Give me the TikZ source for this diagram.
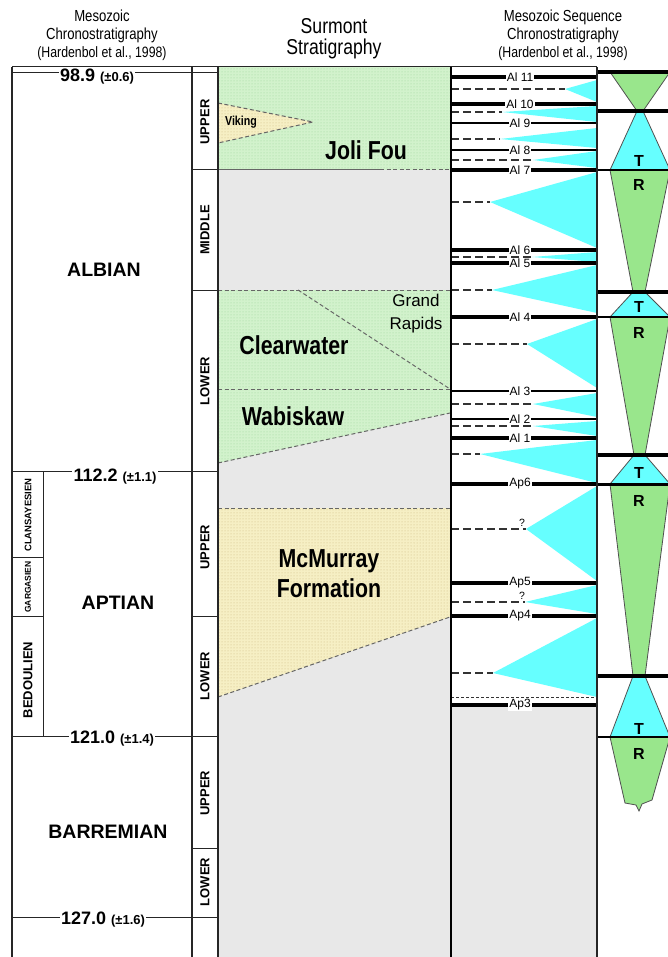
\documentclass[tikz,border=0pt]{standalone}
\usepackage{fontspec}
\setmainfont{Liberation Sans}
\newfontfamily\narrowfont[FakeStretch=0.82]{Liberation Sans}
\usetikzlibrary{patterns}
\definecolor{trgreen}{HTML}{99E68C}
\definecolor{trcyan}{HTML}{66FFFF}
\definecolor{fmgreen}{HTML}{D2F2CC}
\definecolor{dotgreen}{HTML}{9ED49A}
\definecolor{fmyellow}{HTML}{F6EFC4}
\definecolor{dotyellow}{HTML}{CDBB80}
\definecolor{bggray}{HTML}{E8E8E8}
\definecolor{edgegray}{HTML}{505050}
\tikzset{
  hdr/.style={font=\narrowfont\fontsize{16}{18}\selectfont, align=center, inner sep=0pt},
  bighdr/.style={font=\narrowfont\fontsize{21.5}{21}\selectfont, align=center, inner sep=0pt},
  agelbl/.style={font=\bfseries\fontsize{18}{18}\selectfont, fill=white, inner sep=1.2pt},
  stagelbl/.style={font=\bfseries\fontsize{19.5}{20}\selectfont, inner sep=0pt},
  sublbl/.style={font=\bfseries\fontsize{13}{13}\selectfont, rotate=90, inner sep=0pt},
  fmlbl/.style={font=\narrowfont\bfseries\fontsize{26}{30}\selectfont, align=center, inner sep=0pt},
  vikinglbl/.style={font=\narrowfont\bfseries\fontsize{13}{13}\selectfont, inner sep=0pt},
  grlbl/.style={font=\fontsize{17}{23}\selectfont, align=center, inner sep=0pt},
  seqlbl/.style={font=\fontsize{12}{12}\selectfont, fill=white, inner sep=1pt},
  qlbl/.style={font=\fontsize{10.5}{10.5}\selectfont, inner sep=0pt},
  trlbl/.style={font=\bfseries\fontsize{16}{16}\selectfont, inner sep=0pt},
  colline/.style={line width=1.3pt, black!85},
  thinline/.style={line width=1pt, black!85},
  mfs/.style={dash pattern=on 8pt off 4pt, line width=1.6pt, black!80},
  fmedge/.style={dash pattern=on 4pt off 2.5pt, line width=1pt, black!60},
  trshape/.style={draw=edgegray, line width=0.8pt},
  greenfm/.style={fill=fmgreen, postaction={pattern=dots, pattern color=dotgreen}},
  yellowfm/.style={fill=fmyellow, postaction={pattern=dots, pattern color=dotyellow}},
}
\begin{document}
\begin{tikzpicture}[x=1pt,y=-1pt]
\useasboundingbox (0,0) rectangle (668,957);
\fill[white] (0,0) rectangle (668,957);

% ---------- headers
\node[hdr] (hleft) at (102,35) {Mesozoic\\Chronostratigraphy\\{\fontsize{15}{18}\selectfont(Hardenbol et al., 1998)}};
\node[bighdr] (hmid) at (334,39) {Surmont\\Stratigraphy};
\node[hdr] (hright) at (563,35) {Mesozoic Sequence\\Chronostratigraphy\\{\fontsize{15}{18}\selectfont(Hardenbol et al., 1998)}};

% ---------- backgrounds
\fill[bggray] (218,67) rectangle (451,957);
\fill[bggray] (451,706) rectangle (597,957);

% ---------- Surmont formations
\path[greenfm] (218,67) rectangle (450,170);
\path[yellowfm] (218,103) -- (313,122) -- (218,143) -- cycle;
\draw[fmedge] (218,103) -- (313,122) -- (218,143);
\draw[line width=1pt, black!60] (218,170) -- (380,170);
\draw[fmedge] (380,170) -- (450,170);

\path[greenfm] (218,290) -- (450,290) -- (450,413) -- (218,463) -- cycle;
\draw[fmedge] (218,290) -- (450,290);
\draw[fmedge] (218,389) -- (450,389);
\draw[fmedge] (298,290) -- (450,389);
\draw[fmedge] (218,463) -- (450,413);

\path[yellowfm] (218,508) -- (450,508) -- (450,617) -- (218,697) -- cycle;
\draw[fmedge] (218,508) -- (450,508);
\draw[fmedge] (218,697) -- (450,617);

\node[vikinglbl] (viking) at (241,122) {Viking};
\node[fmlbl] (jolifou) at (366,150) {Joli Fou};
\node[fmlbl] (clearwater) at (294,345) {Clearwater};
\node[fmlbl] (wabiskaw) at (293,416) {Wabiskaw};
\node[grlbl] (grandrapids) at (416,314) {Grand\\Rapids};
\node[fmlbl] (mcmurray) at (329,574) {McMurray\\Formation};

% ---------- sequence column: triangles and MFS dashes
\foreach \tx/\ty/\ba/\bb in {565/89/80/102, 502/112/106/122, 500/139/128/148, 533/160/151/168,
  490/202/172/248, 532/257/252/262, 492/290/265/313, 527/344/319/388, 533/404/393/417,
  533/426/421/436, 480/454/440/483, 526/529/486/581, 525/602/585/614, 493/673/618/697}{
  \fill[trcyan] (\tx,\ty) -- (597,\ba) -- (597,\bb) -- cycle;
  \draw[mfs] (451,\ty) -- (\tx,\ty);
}
\draw[dash pattern=on 3pt off 2pt, line width=1pt, black!80] (451,697) -- (597,697);
\node[qlbl] (q1) at (522,523) {?};
\node[qlbl] (q2) at (522,596) {?};

% ---------- sequence boundaries
\foreach \nm/\yy/\lw in {Al 11/77/4.5pt, Al 10/104/4.2pt, Al 9/123/2.8pt, Al 8/150/2.8pt,
  Al 7/170/4.5pt, Al 6/250/4.2pt, Al 5/263/4.5pt, Al 4/317/4.2pt, Al 3/391/2.8pt,
  Al 2/419/2.8pt, Al 1/438/4.2pt, Ap6/484/4.2pt, Ap5/583/4.5pt, Ap4/616/4.2pt, Ap3/705/4.8pt}{
  \draw[line width=\lw] (451,\yy) -- (597,\yy);
  \node[seqlbl] (sb\yy) at (520,\yy) {\nm};
}

% ---------- T/R column
\filldraw[trshape, fill=trgreen] (610,72) -- (670,72) -- (643,111) -- (637,111) -- cycle;
\filldraw[trshape, fill=trcyan] (637,111) -- (643,111) -- (670,170) -- (610,170) -- cycle;
\filldraw[trshape, fill=trgreen] (610,170) -- (670,170) -- (645,292) -- (633,292) -- cycle;
\filldraw[trshape, fill=trcyan] (633,292) -- (645,292) -- (670,317) -- (610,317) -- cycle;
\filldraw[trshape, fill=trgreen] (610,317) -- (670,317) -- (645,455) -- (634,455) -- cycle;
\filldraw[trshape, fill=trcyan] (634,455) -- (645,455) -- (670,484) -- (610,484) -- cycle;
\filldraw[trshape, fill=trgreen] (610,484) -- (670,484) -- (645,676) -- (633,676) -- cycle;
\filldraw[trshape, fill=trcyan] (633,676) -- (645,676) -- (670,737) -- (610,737) -- cycle;
\filldraw[trshape, fill=trgreen] (610,737) -- (670,737) -- (652,800) -- (642,804) -- (639,811) -- (636,805) -- (625,803) -- cycle;

\draw[line width=4pt] (597,72) -- (668,72);
\draw[line width=4pt] (597,111) -- (668,111);
\draw[line width=2pt] (597,170) -- (668,170);
\draw[line width=4pt] (597,292) -- (668,292);
\draw[line width=2pt] (597,317) -- (668,317);
\draw[line width=4pt] (597,455) -- (668,455);
\draw[line width=3pt] (597,484) -- (668,484);
\draw[line width=4pt] (597,676) -- (668,676);
\draw[line width=2pt] (597,737) -- (668,737);

\node[trlbl] (t1) at (639,161) {T};
\node[trlbl] (r1) at (639,185) {R};
\node[trlbl] (t2) at (639,307) {T};
\node[trlbl] (r2) at (639,333) {R};
\node[trlbl] (t3) at (639,473) {T};
\node[trlbl] (r3) at (639,501) {R};
\node[trlbl] (t4) at (639,729) {T};
\node[trlbl] (r4) at (639,754) {R};

% ---------- chronostratigraphy columns
\draw[thinline] (12,73) -- (218,73);
\draw[thinline] (192,170) -- (218,170);
\draw[thinline] (192,290) -- (218,290);
\draw[thinline] (12,471) -- (218,471);
\draw[thinline] (192,616) -- (218,616);
\draw[thinline] (12,557) -- (43,557);
\draw[thinline] (12,616) -- (43,616);
\draw[thinline] (43,471) -- (43,736);
\draw[thinline] (12,736) -- (218,736);
\draw[thinline] (192,848) -- (218,848);
\draw[thinline] (12,917) -- (218,917);

\node[agelbl] (age989) at (97,77) {98.9 {\fontsize{13}{13}\selectfont(±0.6)}};
\node[agelbl] (age1122) at (115,477) {112.2 {\fontsize{13}{13}\selectfont(±1.1)}};
\node[agelbl] (age1210) at (112,739) {121.0 {\fontsize{13}{13}\selectfont(±1.4)}};
\node[agelbl] (age1270) at (103,920) {127.0 {\fontsize{13}{13}\selectfont(±1.6)}};

\draw[thinline] (12,67) -- (597,67);
\draw[colline] (12,67) -- (12,957);
\draw[colline] (192,67) -- (192,957);
\draw[colline] (218,67) -- (218,957);
\draw[line width=2pt] (451,67) -- (451,957);
\draw[colline] (597,67) -- (597,957);

\node[stagelbl] (albian) at (104,270) {ALBIAN};
\node[stagelbl] (aptian) at (118,603) {APTIAN};
\node[stagelbl] (barremian) at (108,832) {BARREMIAN};

\node[sublbl] (u1) at (205,122) {UPPER};
\node[sublbl] (m1) at (205,230) {MIDDLE};
\node[sublbl] (l1) at (205,381) {LOWER};
\node[sublbl] (u2) at (205,547) {UPPER};
\node[sublbl] (l2) at (205,676) {LOWER};
\node[sublbl] (u3) at (205,793) {UPPER};
\node[sublbl] (l3) at (205,882) {LOWER};

\node[sublbl, font=\bfseries\fontsize{9.5}{9.5}\selectfont] (clans) at (28,515) {CLANSAYESIEN};
\node[sublbl, font=\bfseries\fontsize{8.5}{8.5}\selectfont] (garg) at (28,587) {GARGASIEN};
\node[sublbl] (bedoul) at (28,680) {BEDOULIEN};
\end{tikzpicture}
\end{document}
